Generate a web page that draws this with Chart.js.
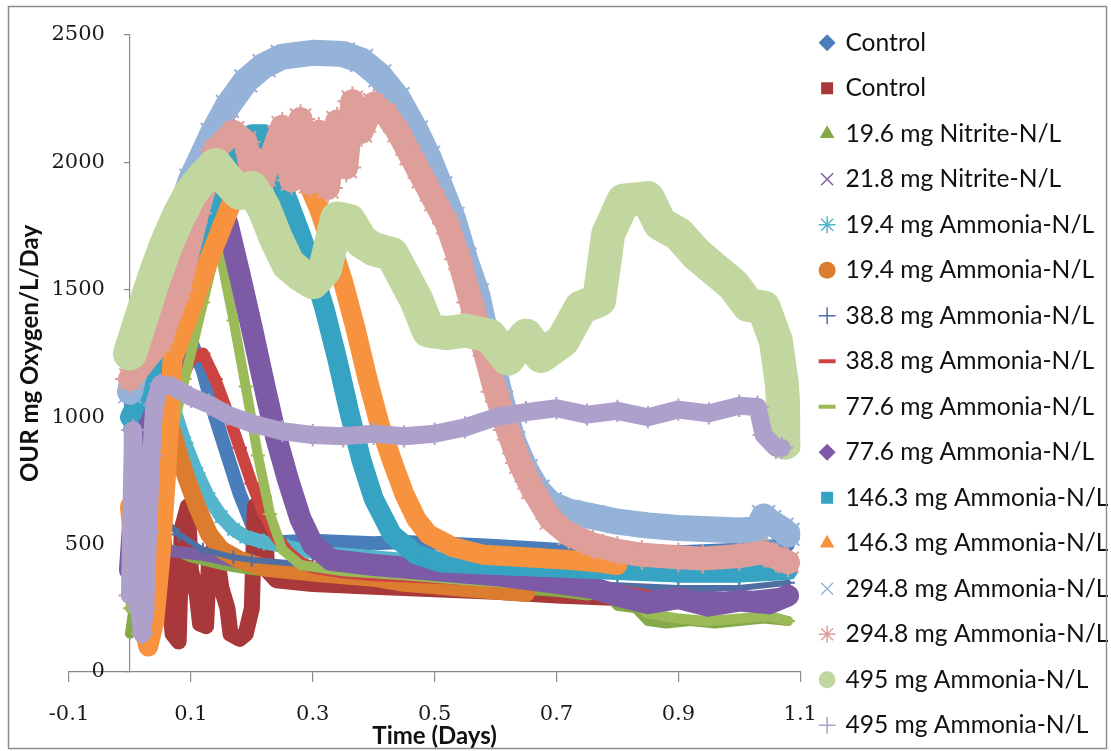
<!DOCTYPE html>
<html>
<head>
<meta charset="utf-8">
<title>OUR vs time</title>
<script src="https://cdn.jsdelivr.net/npm/chart.js@4.4.1/dist/chart.umd.min.js"></script>
<style>
  html, body { margin: 0; padding: 0; background: #fff; }
  #chart { display: block; }
</style>
</head>
<body>
<canvas id="chart" width="1111" height="751"></canvas>
<script>
// series labels, as in the legend
var seriesLabels = ['Control', 'Control', '19.6 mg Nitrite-N/L', '21.8 mg Nitrite-N/L',
  '19.4 mg Ammonia-N/L', '19.4 mg Ammonia-N/L', '38.8 mg Ammonia-N/L', '38.8 mg Ammonia-N/L',
  '77.6 mg Ammonia-N/L', '77.6 mg Ammonia-N/L', '146.3 mg Ammonia-N/L', '146.3 mg Ammonia-N/L',
  '294.8 mg Ammonia-N/L', '294.8 mg Ammonia-N/L', '495 mg Ammonia-N/L', '495 mg Ammonia-N/L'];

var xTickValues = [-0.1, 0.1, 0.3, 0.5, 0.7, 0.9, 1.1];

// [time (days), OUR]
var control1 = [[0,450],[0.02,650],[0.04,900],[0.06,1100],[0.08,1250],[0.1,1300],[0.12,1180],[0.14,1000],[0.16,850],[0.18,700],[0.2,580],[0.22,530],[0.25,510],[0.3,515],[0.35,510],[0.4,505],[0.45,510],[0.5,505],[0.55,500],[0.6,495],[0.7,480],[0.8,470],[0.9,470],[1.0,480],[1.08,500]];
var control2 = [[0,380],[0.02,430],[0.04,520],[0.045,250],[0.05,640],[0.06,400],[0.07,150],[0.08,120],[0.085,560],[0.095,650],[0.1,400],[0.11,300],[0.115,190],[0.125,180],[0.13,450],[0.14,500],[0.15,330],[0.16,250],[0.165,150],[0.18,130],[0.19,150],[0.2,250],[0.205,650],[0.22,680],[0.225,400],[0.24,360],[0.3,345],[0.4,335],[0.5,325],[0.6,315],[0.7,300],[0.8,290],[0.9,280],[1.0,280],[1.08,300]];
var nitrite196 = [[0,150],[0.01,320],[0.02,420],[0.04,470],[0.07,480],[0.1,450],[0.15,420],[0.2,400],[0.3,380],[0.4,360],[0.5,345],[0.6,330],[0.7,315],[0.75,300],[0.78,310],[0.8,260],[0.83,250],[0.85,200],[0.88,190],[0.92,200],[0.96,190],[1.0,200],[1.04,210],[1.08,200]];
var nitrite218 = [[0,1050],[0.005,900],[0.01,600],[0.015,420],[0.02,380],[0.03,440],[0.05,480],[0.08,470],[0.12,460],[0.16,440],[0.2,420],[0.3,400],[0.4,390],[0.5,380],[0.6,360],[0.7,340],[0.8,320],[0.9,300],[1.0,290],[1.08,310]];
var ammonia194a = [[0,950],[0.01,1100],[0.02,1200],[0.04,1250],[0.05,1200],[0.07,1050],[0.09,900],[0.11,780],[0.13,680],[0.15,610],[0.17,560],[0.19,530],[0.22,510],[0.26,490],[0.3,470],[0.4,450],[0.5,430],[0.6,410],[0.7,400],[0.8,390],[0.9,380],[1.0,380],[1.08,390]];
var ammonia194b = [[0,400],[0.01,700],[0.02,950],[0.03,1080],[0.04,1120],[0.05,1080],[0.07,940],[0.09,780],[0.11,650],[0.13,540],[0.15,480],[0.18,440],[0.22,410],[0.26,400],[0.3,390],[0.35,380],[0.4,370],[0.45,350],[0.5,340],[0.55,330],[0.6,320],[0.65,310]];
var ammonia388a = [[0,350],[0.01,600],[0.02,800],[0.03,700],[0.05,620],[0.08,540],[0.12,480],[0.17,450],[0.2,440],[0.3,420],[0.4,400],[0.5,390],[0.6,370],[0.7,350],[0.8,340],[0.9,330],[1.0,330],[1.08,350]];
var ammonia388b = [[0,300],[0.02,500],[0.04,750],[0.06,950],[0.08,1120],[0.1,1230],[0.12,1250],[0.14,1150],[0.16,1020],[0.18,880],[0.2,740],[0.22,620],[0.24,530],[0.26,470],[0.28,430],[0.3,410],[0.35,390],[0.4,380],[0.5,370],[0.6,360],[0.7,340],[0.8,320],[0.85,300]];
var ammonia776a = [[0,250],[0.03,550],[0.06,850],[0.09,1150],[0.12,1450],[0.14,1650],[0.15,1620],[0.17,1380],[0.19,1120],[0.21,850],[0.23,620],[0.25,480],[0.28,420],[0.35,395],[0.45,380],[0.55,360],[0.65,345],[0.75,330],[0.8,300],[0.82,290],[0.85,230],[0.9,210],[0.95,200],[1.0,210],[1.05,220],[1.08,200]];
var ammonia776b = [[0,400],[0.01,750],[0.02,900],[0.04,1100],[0.06,1300],[0.08,1450],[0.1,1600],[0.12,1740],[0.14,1800],[0.16,1760],[0.18,1560],[0.2,1350],[0.22,1130],[0.24,920],[0.26,750],[0.28,600],[0.3,500],[0.33,440],[0.4,420],[0.5,400],[0.6,380],[0.7,350],[0.76,330],[0.8,300],[0.85,270],[0.9,290],[0.95,260],[1.0,280],[1.05,270],[1.08,300]];
var ammonia1463a = [[0,1000],[0.03,1150],[0.06,1350],[0.09,1550],[0.12,1750],[0.15,1920],[0.18,2050],[0.2,2110],[0.22,2110],[0.235,2030],[0.25,1910],[0.28,1720],[0.3,1580],[0.32,1420],[0.34,1230],[0.36,1020],[0.38,830],[0.4,680],[0.43,540],[0.47,460],[0.51,430],[0.6,420],[0.7,410],[0.8,400],[0.9,390],[1.0,390],[1.08,400]];
var ammonia1463b = [[0,650],[0.01,400],[0.02,200],[0.03,100],[0.04,200],[0.05,450],[0.06,800],[0.07,1230],[0.1,1420],[0.13,1620],[0.17,1860],[0.2,1960],[0.24,2020],[0.27,2000],[0.29,1930],[0.31,1820],[0.33,1680],[0.35,1530],[0.37,1350],[0.39,1150],[0.41,970],[0.43,830],[0.45,700],[0.47,600],[0.49,540],[0.53,490],[0.58,460],[0.65,450],[0.72,440],[0.77,430],[0.8,420]];
var ammonia2948a = [[0,1100],[0.02,1300],[0.04,1480],[0.07,1720],[0.1,1930],[0.135,2110],[0.16,2220],[0.19,2320],[0.22,2380],[0.25,2415],[0.3,2430],[0.35,2425],[0.38,2400],[0.41,2340],[0.44,2250],[0.47,2120],[0.49,2020],[0.51,1900],[0.53,1780],[0.55,1620],[0.57,1480],[0.59,1260],[0.61,1060],[0.63,900],[0.65,790],[0.67,710],[0.69,660],[0.72,630],[0.76,610],[0.8,590],[0.85,575],[0.9,565],[0.95,560],[1.0,555],[1.03,560],[1.04,610],[1.05,590],[1.07,560],[1.08,540]];
var ammonia2948b = [[0,1150],[0.05,1300],[0.08,1500],[0.11,1800],[0.14,2050],[0.17,2120],[0.19,2080],[0.2,1960],[0.215,1910],[0.23,2010],[0.25,2140],[0.265,1930],[0.28,2170],[0.295,1920],[0.31,2120],[0.325,1900],[0.34,2160],[0.355,1980],[0.365,2240],[0.38,2120],[0.4,2230],[0.42,2190],[0.44,2120],[0.46,2030],[0.48,1940],[0.5,1850],[0.52,1760],[0.54,1620],[0.56,1450],[0.58,1280],[0.6,1100],[0.62,950],[0.64,820],[0.66,720],[0.69,600],[0.72,540],[0.76,500],[0.8,475],[0.84,460],[0.9,450],[0.94,445],[1.0,455],[1.04,470],[1.06,450],[1.08,430]];
var ammonia495a = [[0,1250],[0.02,1400],[0.04,1550],[0.06,1680],[0.08,1790],[0.1,1880],[0.12,1940],[0.14,1990],[0.16,1930],[0.18,1880],[0.2,1900],[0.22,1820],[0.24,1700],[0.26,1600],[0.28,1560],[0.3,1530],[0.32,1580],[0.34,1780],[0.36,1770],[0.38,1690],[0.4,1660],[0.43,1640],[0.45,1550],[0.47,1460],[0.49,1340],[0.52,1330],[0.55,1340],[0.59,1320],[0.62,1230],[0.65,1320],[0.675,1240],[0.71,1300],[0.74,1430],[0.77,1460],[0.785,1720],[0.81,1850],[0.85,1860],[0.87,1760],[0.9,1720],[0.93,1640],[0.96,1580],[0.99,1520],[1.015,1440],[1.04,1430],[1.06,1300],[1.07,1130],[1.075,900]];
var ammonia495b = [[0,300],[0.005,950],[0.01,650],[0.015,250],[0.02,150],[0.025,250],[0.03,550],[0.035,850],[0.04,1050],[0.05,1130],[0.07,1120],[0.1,1080],[0.13,1050],[0.16,1010],[0.2,975],[0.25,945],[0.3,930],[0.35,925],[0.4,935],[0.45,925],[0.5,935],[0.55,960],[0.6,1000],[0.65,1020],[0.7,1035],[0.75,1010],[0.8,1025],[0.85,1000],[0.9,1030],[0.95,1015],[1.0,1045],[1.03,1040],[1.04,930],[1.06,880],[1.07,880]];

var seriesData = [control1, control2, nitrite196, nitrite218, ammonia194a, ammonia194b,
  ammonia388a, ammonia388b, ammonia776a, ammonia776b, ammonia1463a, ammonia1463b,
  ammonia2948a, ammonia2948b, ammonia495a, ammonia495b];

var seriesColors = ['#4a7ebb', '#a9383a', '#86a94a', '#7c5fa3', '#55b5cd', '#dc7c2f', '#4f6fa3', '#cc4440',
  '#9bbb59', '#7d5aa6', '#36a3c3', '#f7923f', '#95b3d9', '#de9e99', '#c2d79f', '#ada1cb'];
var markerStyles = ['rectRot', 'rect', 'triangle', 'crossRot', 'star', 'circle', 'cross', 'line',
  'line', 'rectRot', 'rect', 'triangle', 'crossRot', 'star', 'circle', 'cross'];
var bandWidths = [14, 16, 10, 12, 14, 18, 6, 12, 10, 22, 20, 20, 26, 24, 34, 18];

var strokeOnly = ['cross', 'crossRot', 'star', 'line'];

var datasets = seriesData.map(function(pts, i) {
  var spiky = strokeOnly.indexOf(markerStyles[i]) >= 0;
  return {
    label: seriesLabels[i],
    data: pts.map(function(p) { return {x: p[0], y: p[1]}; }),
    showLine: true,
    borderColor: seriesColors[i],
    backgroundColor: seriesColors[i],
    borderWidth: bandWidths[i],
    borderJoinStyle: 'round',
    borderCapStyle: 'round',
    pointStyle: markerStyles[i],
    pointRadius: spiky ? Math.max(7, bandWidths[i] * 0.62) : bandWidths[i] / 2 - 1,
    pointBorderWidth: spiky ? 2 : 0,
    pointBackgroundColor: seriesColors[i],
    pointBorderColor: seriesColors[i],
    order: seriesData.length - i   // later series drawn on top, like Excel
  };
});

var framePlugin = {
  id: 'frame',
  beforeDraw: function(chart) {
    var c = chart.ctx;
    c.save();
    c.fillStyle = '#fff';
    c.fillRect(0, 0, chart.width, chart.height);
    c.restore();
  },
  afterLayout: function(chart) {
    // value axis crosses the time axis at 0 days
    chart.scales.y.right = chart.scales.x.getPixelForValue(0);
  },
  afterDraw: function(chart) {
    var c = chart.ctx;
    c.save();
    c.strokeStyle = '#8c8c8c';
    c.lineWidth = 1.5;
    c.strokeRect(8.5, 6.5, chart.width - 13, chart.height - 9);
    c.restore();
  }
};

var axisGray = '#8a8a8a';
var serif = {family: 'DejaVu Serif', size: 21};
var titleFont = {family: 'Lato', size: 24, weight: 'bold'};
// negative left padding only widens the room Chart.js allows the right-hand legend
var padLeft = -200;

new Chart(document.getElementById('chart'), {
  type: 'scatter',
  data: {datasets: datasets},
  options: {
    responsive: false,
    animation: false,
    events: [],
    layout: {padding: {left: padLeft, right: -7.4, top: 0, bottom: -17}},
    plugins: {
      tooltip: {enabled: false},
      title: {display: true, text: '', fullSize: false, padding: {top: 35, bottom: 0}, font: {size: 1, lineHeight: 0}},
      legend: {
        position: 'right',
        labels: {
          usePointStyle: true,
          boxWidth: 12,
          boxHeight: 12,
          padding: 20.9,
          color: '#111',
          font: {family: 'Lato', size: 24.6},
          generateLabels: function(chart) {
            return chart.data.datasets.map(function(ds, i) {
              var lw = ds.pointStyle === 'line' ? 4 : (strokeOnly.indexOf(ds.pointStyle) >= 0 ? 1.5 : 0);
              return {
                text: ds.label,
                datasetIndex: i,
                hidden: false,
                fillStyle: ds.borderColor,
                strokeStyle: ds.borderColor,
                lineWidth: lw,
                pointStyle: ds.pointStyle,
                fontColor: '#111'
              };
            });
          }
        }
      }
    },
    scales: {
      x: {
        type: 'linear',
        position: 'bottom',
        min: -0.1,
        max: 1.1,
        afterBuildTicks: function(axis) {
          axis.ticks = xTickValues.map(function(v) { return {value: v}; });
        },
        ticks: {padding: 20, color: '#1a1a1a', font: serif, callback: function(v) { return String(v); }},
        grid: {drawOnChartArea: false, tickLength: 10, color: axisGray, lineWidth: 1.2},
        border: {color: axisGray, width: 1.2},
        title: {display: true, text: 'Time (Days)', color: '#111', font: titleFont, padding: {top: -25, bottom: 17}}
      },
      y: {
        type: 'linear',
        position: 'left',
        min: 0,
        max: 2500,
        afterFit: function(axis) { axis.width = 69 - padLeft; },
        ticks: {stepSize: 500, padding: 19, color: '#1a1a1a', font: serif, callback: function(v) { return String(v); }},
        grid: {drawOnChartArea: false, tickLength: 6, color: axisGray, lineWidth: 1.2},
        border: {color: axisGray, width: 1.2},
        title: {display: true, text: 'OUR mg Oxygen/L/Day', color: '#111', font: titleFont, padding: {top: 15.6 - padLeft, bottom: 0}}
      }
    }
  },
  plugins: [framePlugin]
});
</script>
</body>
</html>
